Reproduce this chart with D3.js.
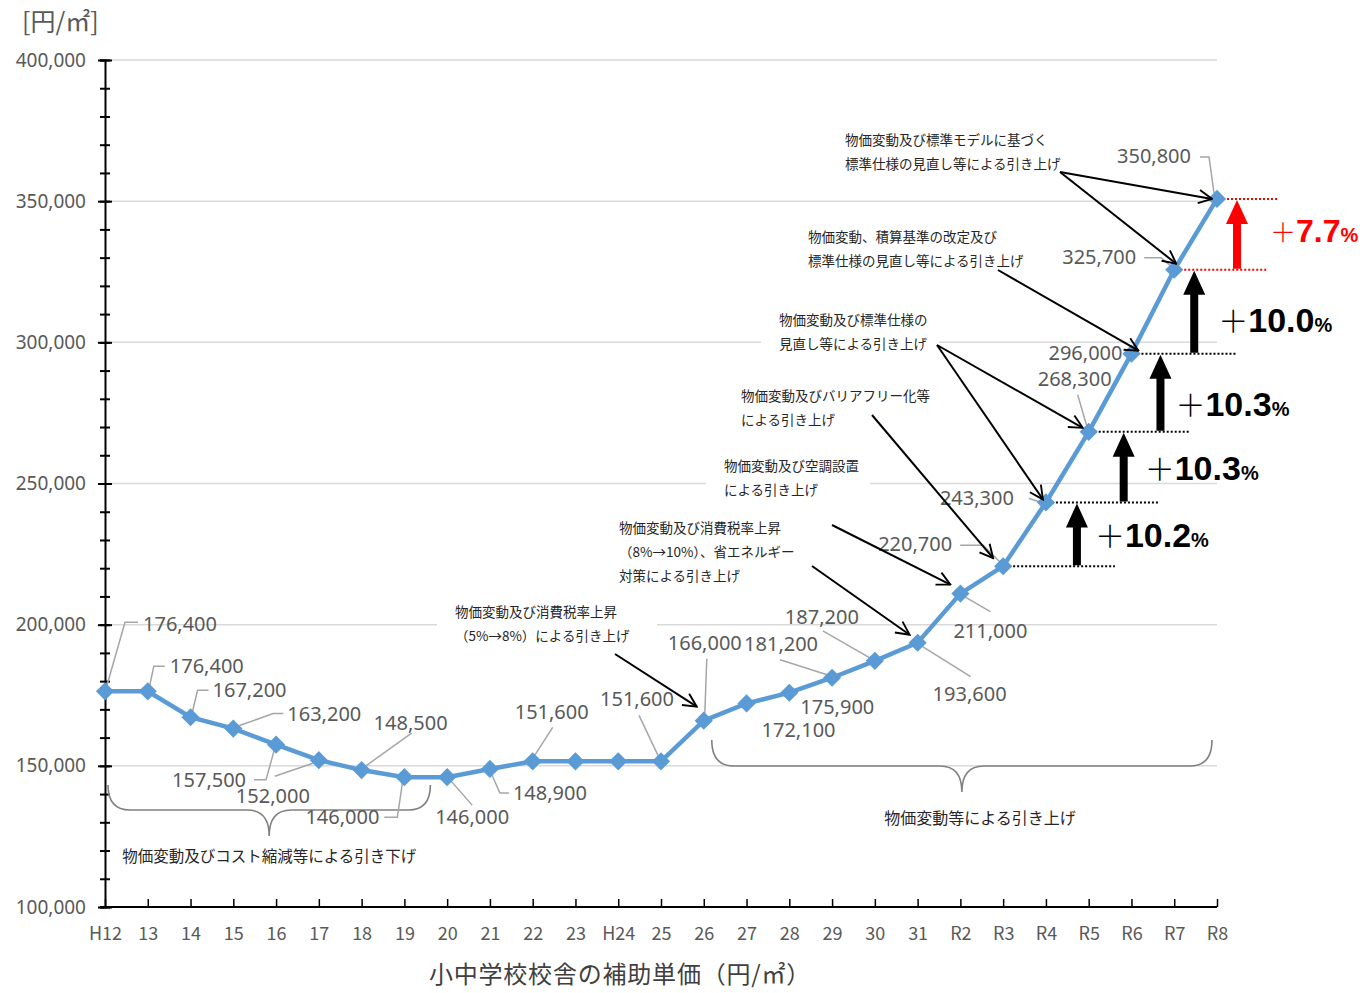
<!DOCTYPE html>
<html>
<head>
<meta charset="utf-8">
<script src="https://cdn.jsdelivr.net/npm/d3@7"></script>
<style>
  body { margin: 0; background: #fff; }
  svg { display: block; }
  text { font-family: "Noto Sans", "Noto Sans CJK JP", sans-serif; }
  .jp { font-family: "Noto Sans CJK JP", sans-serif; }
</style>
</head>
<body>
<svg id="chart" width="1366" height="993"></svg>
<script>
// years on the x axis
const years = ['H12','13','14','15','16','17','18','19','20','21','22','23','H24','25','26','27','28','29','30','31','R2','R3','R4','R5','R6','R7','R8']
// subsidy unit price (yen per m2)
const prices = [176400,176400,167200,163200,157500,152000,148500,146000,146000,148900,151600,151600,151600,151600,166000,172100,175900,181200,187200,193600,211000,220700,243300,268300,296000,325700,350800]
const yTicks = [100000,150000,200000,250000,300000,350000,400000]
// step-up percentages for the last five years
const stepYears = ['R4','R5','R6','R7','R8']
const stepPct = ['10.2','10.3','10.3','10.0','7.7']

// label placement: [dx, dy] from the point, leader polyline offsets (null = no label)
const labelLayout = [
  [38,-67,[[2,-6],[20,-69],[33,-69]]],
  [22,-25,[[2,-6],[6,-25],[17,-25]]],
  [22,-27,[[2,-6],[7,-27],[18,-27]]],
  [54,-15,[[6,-3],[40,-15],[50,-15]]],
  [-104,35,[[-2,6],[-10,35],[-22,35]]],
  [-83,36,[[-6,3],[-44,16]]],
  [12,-47,[[4,-4],[50,-37]]],
  [-99,40,[[-2,6],[-7,40],[-20,40]]],
  [-12,40,[[4,4],[25,28]]],
  [23,24,[[2,6],[10,24],[19,24]]],
  [-18,-49,[[2,-6],[20,-34]]],
  null, null,
  [-61,-62,[[-3,-6],[-22,-46]]],
  [-36,-78,[[1,-6],[3,-62]]],
  [15,27,null],
  [11,14,null],
  [-88,-34,[[-5,-3],[-52,-18]]],
  [-90,-44,[[-5,-3],[-52,-30]]],
  [15,51,[[5,4],[53,34]]],
  [-7,37,[[4,3],[30,18]]],
  [-125,-22,[[-3,-4],[-20,-21],[-43,-21]]],
  [-106,-4,[[-4,0],[-17,-4]]],
  [-51,-53,[[-2,-6],[-11,-37]]],
  [-83,-1,null],
  [-112,-13,[[-4,-4],[-13,-12],[-30,-12]]],
  [-100,-43,[[-3,-6],[-8,-42],[-17,-42]]]
]

// callout notes: text lines, anchor, arrows to years
const notes = [
  {lines:['物価変動及び標準モデルに基づく','標準仕様の見直し等による引き上げ'], x:845, y:140, from:[1060,172], to:[['R8',-5,0],['R7',2,-6]]},
  {lines:['物価変動、積算基準の改定及び','標準仕様の見直し等による引き上げ'], x:808, y:237, from:[998,270], to:[['R6',7,-3]]},
  {lines:['物価変動及び標準仕様の','見直し等による引き上げ'], x:779, y:320, from:[937,345], to:[['R5',-6,-4],['R4',-3,-3]], box:true},
  {lines:['物価変動及びバリアフリー化等','による引き上げ'], x:741, y:396, from:[872,415], to:[['R3',-10,-8]]},
  {lines:['物価変動及び空調設置','による引き上げ'], x:724, y:466, from:[832,525], to:[['R2',-10,-9]], box:true},
  {lines:['物価変動及び消費税率上昇','（8%→10%）、省エネルギー','対策による引き上げ'], x:619, y:528, from:[812,566], to:[['31',-8,-8]]},
  {lines:['物価変動及び消費税率上昇','（5%→8%）による引き上げ'], x:455, y:612, from:[615,654], to:[['26',-7,-14]], box:true}
]

const svg = d3.select('#chart')
const x = d3.scalePoint(years, [105, 1217])
const y = d3.scaleLinear([100000, 400000], [907, 60])
const blue = '#5b9bd5', gray = '#595959', lead = '#a6a6a6'

// gridlines
svg.append('g').selectAll('line').data(yTicks.slice(1)).join('line')
  .attr('x1', 105).attr('x2', 1217)
  .attr('y1', d => y(d)).attr('y2', d => y(d))
  .attr('stroke', '#d9d9d9').attr('stroke-width', 1.5)

// white boxes behind notes that cut the gridlines
notes.filter(n => n.box).forEach(n => {
  const w = d3.max(n.lines, l => l.length) * 14 + 24
  svg.append('rect').attr('x', n.x - 18).attr('y', n.y - 14)
    .attr('width', w).attr('height', n.lines.length * 24 + 8).attr('fill', '#fff')
})

// y axis with crossing ticks
const yAxisG = svg.append('g').attr('transform', 'translate(105,0)')
  .call(d3.axisLeft(y).tickValues(d3.range(100000, 400001, 10000)).tickSize(5).tickFormat(''))
yAxisG.selectAll('.tick line').attr('x1', 5).attr('stroke-width', 2)
yAxisG.select('.domain').attr('stroke-width', 2)
const yLab = svg.append('g').attr('transform', 'translate(105,0)')
  .call(d3.axisLeft(y).tickValues(yTicks).tickSize(7).tickPadding(12).tickFormat(d3.format(',')))
yLab.select('.domain').remove()
yLab.selectAll('.tick line').attr('x1', 7).attr('stroke-width', 2)
yLab.selectAll('text').attr('fill', gray).style('font-size', '19px').style('font-family', '"Noto Sans", sans-serif')

// x axis
const xAxisG = svg.append('g').attr('transform', 'translate(0,907)')
  .call(d3.axisBottom(x).tickSize(-8).tickSizeOuter(0).tickPadding(20))
xAxisG.select('.domain').attr('d', 'M100,0H1217').attr('stroke-width', 2)
xAxisG.selectAll('.tick line').attr('stroke-width', 1.5)
xAxisG.selectAll('text').attr('fill', gray).style('font-size', '18px').style('font-family', '"Noto Sans CJK JP", sans-serif')

// unit and title
svg.append('text').attr('class', 'jp').attr('x', 22).attr('y', 31).attr('fill', gray)
  .style('font-size', '25px').text('[円/㎡]')
svg.append('text').attr('class', 'jp').attr('x', 620).attr('y', 983).attr('text-anchor', 'middle')
  .attr('fill', '#404040').style('font-size', '24px').style('letter-spacing', '0.8px').text('小中学校校舎の補助単価（円/㎡）')

// braces
function brace(x0, x1, top, mid, tip) {
  const xc = (x0 + x1) / 2
  return `M${x0},${top}Q${x0},${mid} ${x0 + 22},${mid}L${xc - 22},${mid}Q${xc},${mid} ${xc},${tip}` +
    `Q${xc},${mid} ${xc + 22},${mid}L${x1 - 22},${mid}Q${x1},${mid} ${x1},${top}`
}
svg.append('path').attr('d', brace(x('H12') + 3, x('19') + 26, 785, 810, 836))
  .attr('fill', 'none').attr('stroke', '#808080').attr('stroke-width', 1.6)
svg.append('path').attr('d', brace(x('26') + 8, x('R8') - 5, 740, 766, 792))
  .attr('fill', 'none').attr('stroke', '#808080').attr('stroke-width', 1.6)
svg.append('text').attr('class', 'jp').attr('x', (x('H12') + x('19') + 29) / 2).attr('y', 862)
  .attr('text-anchor', 'middle').attr('fill', '#262626').style('font-size', '15.5px')
  .text('物価変動及びコスト縮減等による引き下げ')
svg.append('text').attr('class', 'jp').attr('x', 980).attr('y', 824)
  .attr('text-anchor', 'middle').attr('fill', '#262626').style('font-size', '16px')
  .text('物価変動等による引き上げ')

// leader lines and value labels
const pts = years.map((yr, i) => ({yr, v: prices[i], px: x(yr), py: y(prices[i]), lay: labelLayout[i]}))
const labeled = pts.filter(p => p.lay)
svg.append('g').selectAll('path').data(labeled.filter(p => p.lay[2])).join('path')
  .attr('d', p => d3.line()(p.lay[2].map(o => [p.px + o[0], p.py + o[1]])))
  .attr('fill', 'none').attr('stroke', lead).attr('stroke-width', 1.5)

// dotted step lines
const stepG = svg.append('g')
const stepEnds = [69, 71, 59, 62, 51]
stepYears.forEach((yr, k) => {
  const i = years.indexOf(yr)
  const red = k === stepYears.length - 1
  const lowX = x(years[i - 1]), lowY = y(prices[i - 1])
  stepG.append('line').attr('x1', lowX + 2).attr('x2', x(yr) + stepEnds[k]).attr('y1', lowY).attr('y2', lowY)
    .attr('stroke', red ? '#ff0000' : '#000').attr('stroke-width', 2).attr('stroke-dasharray', '2,2')
  if (red) {
    stepG.append('line').attr('x1', x(yr) + 2).attr('x2', x(yr) + 60).attr('y1', y(prices[i])).attr('y2', y(prices[i]))
      .attr('stroke', '#ff0000').attr('stroke-width', 2).attr('stroke-dasharray', '2,2')
  }
})

// price line
svg.append('path').datum(pts)
  .attr('d', d3.line(p => p.px, p => p.py))
  .attr('fill', 'none').attr('stroke', blue).attr('stroke-width', 4.5)
svg.append('g').selectAll('path').data(pts).join('path')
  .attr('d', d3.symbol(d3.symbolSquare, 165))
  .attr('transform', p => `translate(${p.px},${p.py}) rotate(45)`)
  .attr('fill', blue)

svg.append('g').selectAll('text').data(labeled).join('text')
  .attr('x', p => p.px + p.lay[0]).attr('y', p => p.py + p.lay[1])
  .attr('dy', '0.35em').attr('fill', gray).style('font-size', '20px')
  .text(p => d3.format(',')(p.v))

// callout notes with arrows
const defs = svg.append('defs')
defs.append('marker').attr('id', 'open').attr('viewBox', '0 0 12 12').attr('refX', 11).attr('refY', 6)
  .attr('markerWidth', 16).attr('markerHeight', 16).attr('markerUnits', 'userSpaceOnUse').attr('orient', 'auto')
  .append('path').attr('d', 'M1,1L11,6L1,11').attr('fill', 'none').attr('stroke', '#000').attr('stroke-width', 1.4)
notes.forEach(n => {
  const t = svg.append('text').attr('class', 'jp').attr('fill', '#262626').style('font-size', '13.5px')
  n.lines.forEach((l, j) => t.append('tspan').attr('x', n.x).attr('y', n.y + j * 24 + 5).text(l))
  n.to.forEach(([yr, dx, dy]) => {
    svg.append('line').attr('x1', n.from[0]).attr('y1', n.from[1])
      .attr('x2', x(yr) + dx).attr('y2', y(prices[years.indexOf(yr)]) + dy)
      .attr('stroke', '#000').attr('stroke-width', 2).attr('marker-end', 'url(#open)')
  })
})

// step-up arrows and percentages
const arrowDx = [31, 35, 29, 20, 20]
const textDx = [18, 21, 15, 24, 33]
const textDy = [7, 7, 18, 15, 2]
stepYears.forEach((yr, k) => {
  const i = years.indexOf(yr)
  const ax = x(yr) + arrowDx[k]
  const y0 = y(prices[i - 1]) - 1, y1 = y(prices[i]) + 1
  const red = k === stepYears.length - 1
  const col = red ? '#ff0000' : '#000'
  const hw = 11, hh = 24, sw = 4
  svg.append('path')
    .attr('d', `M${ax - sw},${y0}V${y1 + hh}H${ax - hw}L${ax},${y1}L${ax + hw},${y1 + hh}H${ax + sw}V${y0}Z`)
    .attr('fill', col)
  const t = svg.append('text').attr('x', ax + textDx[k]).attr('y', (y0 + y1) / 2 + textDy[k]).attr('dy', '0.35em')
    .attr('fill', col).style('font-family', '"Liberation Sans", Arial, sans-serif').style('font-weight', 'bold')
  t.append('tspan').attr('class', 'jp').style('font-family', '"Noto Sans CJK JP", sans-serif').style('font-weight', 300)
    .style('font-size', red ? '26px' : '30px').text('＋')
  t.append('tspan').style('font-size', red ? '32px' : '34px').text(stepPct[k])
  t.append('tspan').style('font-size', '20px').text('%')
})
</script>
</body>
</html>
